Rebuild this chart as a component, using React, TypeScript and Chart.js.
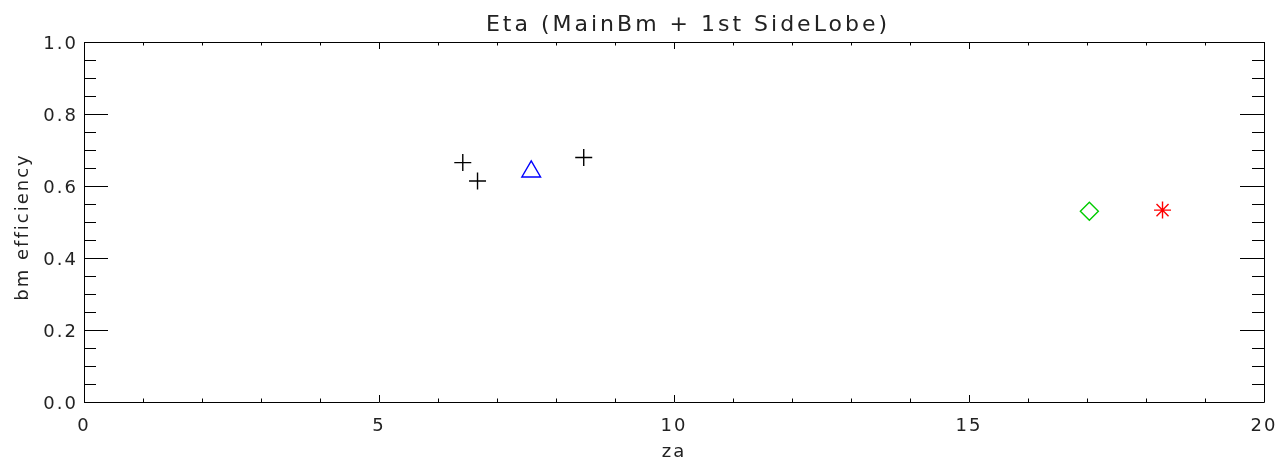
import React, { useEffect, useRef } from "react";
import { Chart, registerables } from "chart.js";
Chart.register(...registerables);

// ---- data ----
const plusZa = [6.42, 6.67, 8.47];
const plusEta = [0.665, 0.614, 0.679];
const triangleZa = [7.58];
const triangleEta = [0.64];
const diamondZa = [17.04];
const diamondEta = [0.53];
const starZa = [18.28];
const starEta = [0.533];

const xMin = 0;
const xMax = 20;
const xMajorStep = 5;
const xMinorStep = 1;
const yMin = 0;
const yMax = 1;
const yMajorStep = 0.2;
const yMinorStep = 0.05;

const titleText = "Eta (MainBm + 1st SideLobe)";
const xTitleText = "za";
const yTitleText = "bm efficiency";

const FONT = "'DejaVu Sans', 'Liberation Sans', sans-serif";
const TEXT_COLOR = "#222";

function pts(xs: number[], ys: number[]) {
  return xs.map((x, i) => ({ x, y: ys[i] }));
}

const framePlugin = {
  id: "idlFrame",
  beforeDraw(chart: any) {
    chart.ctx.letterSpacing = "2px";
  },
  beforeDatasetsDraw(chart: any) {
    const { ctx, chartArea } = chart;
    const xs = chart.scales.x;
    const ys = chart.scales.y;
    const L = chartArea.left;
    const R = chartArea.right;
    const T = chartArea.top;
    const B = chartArea.bottom;
    ctx.save();
    ctx.strokeStyle = "#000";
    ctx.lineWidth = 1;
    ctx.beginPath();
    ctx.rect(L + 0.5, T + 0.5, R - L, B - T);
    // x ticks (bottom & top)
    for (let v = xMin; v <= xMax + 1e-9; v += xMinorStep) {
      const px = Math.round(xs.getPixelForValue(v)) + 0.5;
      const major = Math.abs(v / xMajorStep - Math.round(v / xMajorStep)) < 1e-6;
      const len = major ? 7 : 3.5;
      ctx.moveTo(px, B);
      ctx.lineTo(px, B - len);
      ctx.moveTo(px, T);
      ctx.lineTo(px, T + len);
    }
    // y ticks (left & right)
    for (let v = yMin; v <= yMax + 1e-9; v += yMinorStep) {
      const py = Math.round(ys.getPixelForValue(v)) + 0.5;
      const major = Math.abs(v / yMajorStep - Math.round(v / yMajorStep)) < 1e-6;
      const len = major ? 24 : 12;
      ctx.moveTo(L, py);
      ctx.lineTo(L + len, py);
      ctx.moveTo(R, py);
      ctx.lineTo(R - len, py);
    }
    ctx.stroke();

    // texts
    ctx.fillStyle = TEXT_COLOR;
    ctx.letterSpacing = "3px";
    ctx.font = `22px ${FONT}`;
    ctx.textAlign = "center";
    ctx.textBaseline = "alphabetic";
    ctx.fillText(titleText, 688, 31);

    ctx.letterSpacing = "2px";
    ctx.font = `18px ${FONT}`;
    ctx.fillText(xTitleText, (L + R) / 2, 457);

    ctx.translate(28, 227);
    ctx.rotate(-Math.PI / 2);
    ctx.fillText(yTitleText, 0, 0);
    ctx.restore();
  },
  afterDraw(chart: any) {
    chart.ctx.letterSpacing = "0px";
  },
};

export default function App() {
  const ref = useRef<HTMLCanvasElement | null>(null);
  useEffect(() => {
    if (!ref.current) return;
    const chart = new Chart(ref.current, {
      type: "scatter",
      data: {
        datasets: [
          {
            data: pts(plusZa, plusEta),
            pointStyle: "cross",
            pointRadius: 8.5,
            pointBorderWidth: 1.4,
            borderColor: "#000",
            backgroundColor: "#000",
          },
          {
            data: pts(triangleZa, triangleEta),
            pointStyle: "triangle",
            pointRadius: 10.8,
            pointBorderWidth: 1.4,
            borderColor: "#0000ff",
            backgroundColor: "rgba(0,0,0,0)",
          },
          {
            data: pts(diamondZa, diamondEta),
            pointStyle: "rectRot",
            pointRadius: 9,
            pointBorderWidth: 1.4,
            borderColor: "#00cc00",
            backgroundColor: "rgba(0,0,0,0)",
          },
          {
            data: pts(starZa, starEta),
            pointStyle: "star",
            pointRadius: 8.5,
            pointBorderWidth: 1.4,
            borderColor: "#ff0000",
            backgroundColor: "#ff0000",
          },
        ],
      },
      options: {
        animation: false,
        responsive: false,
        maintainAspectRatio: false,
        events: [],
        layout: { padding: { left: 0, right: 16, top: 42, bottom: 0 } },
        plugins: {
          legend: { display: false },
          title: { display: false },
          tooltip: { enabled: false },
        },
        scales: {
          x: {
            type: "linear",
            min: xMin,
            max: xMax,
            grid: { display: false, drawTicks: false },
            border: { display: false },
            ticks: {
              stepSize: xMajorStep,
              padding: 14,
              maxRotation: 0,
              color: TEXT_COLOR,
              font: { family: FONT, size: 18 },
              callback: (v: any) => String(v),
            },
            afterFit: (s: any) => {
              s.height = 61;
              s.paddingLeft = 0;
              s.paddingRight = 0;
            },
          },
          y: {
            type: "linear",
            min: yMin,
            max: yMax,
            grid: { display: false, drawTicks: false },
            border: { display: false },
            ticks: {
              stepSize: yMajorStep,
              padding: 6,
              labelOffset: 2,
              color: TEXT_COLOR,
              font: { family: FONT, size: 18 },
              callback: (v: any) => Number(v).toFixed(1),
            },
            afterFit: (s: any) => {
              s.width = 84;
              s.paddingTop = 0;
              s.paddingBottom = 0;
            },
          },
        },
      },
      plugins: [framePlugin],
    });
    return () => chart.destroy();
  }, []);
  return (
    <div style={{ position: "absolute", left: 0, top: 0, width: 1280, height: 463 }}>
      <canvas ref={ref} width={1280} height={463} style={{ width: 1280, height: 463, display: "block" }} />
    </div>
  );
}
